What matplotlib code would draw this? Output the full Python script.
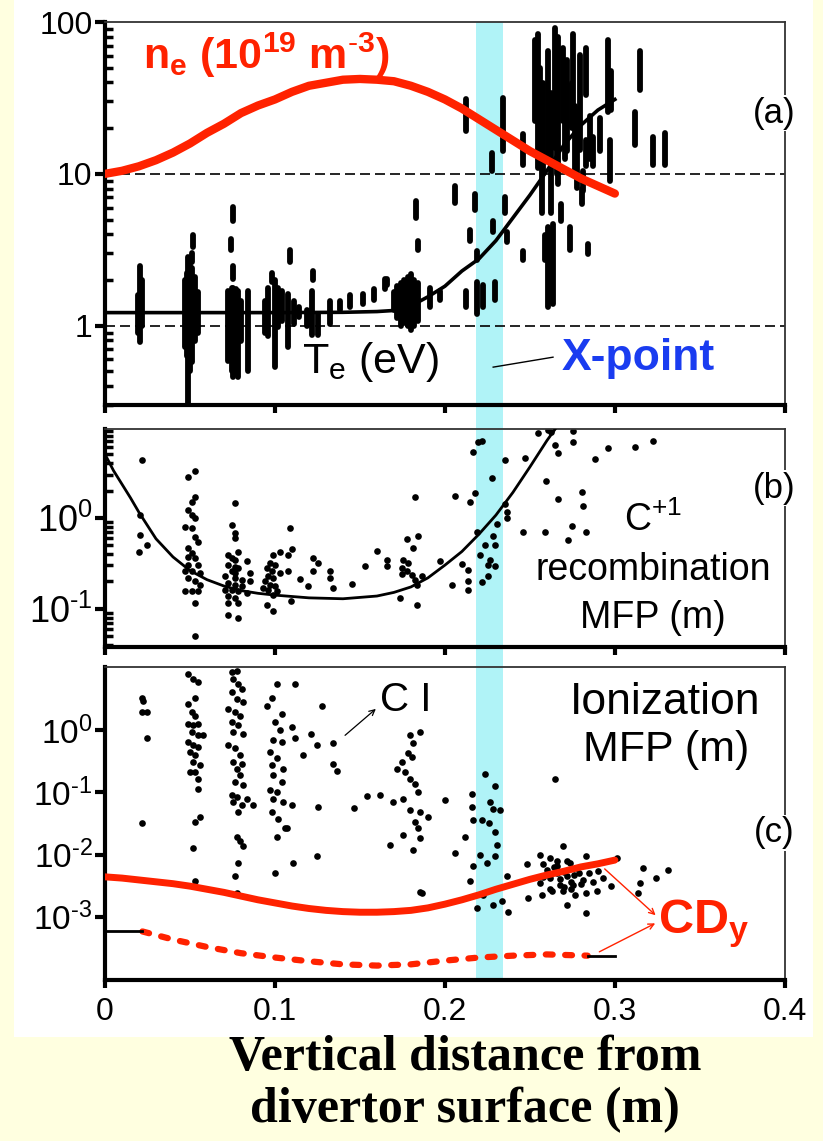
import numpy as np
import matplotlib.pyplot as plt
import matplotlib.transforms as mtransforms
from matplotlib.patches import Rectangle
from matplotlib.ticker import NullFormatter

plt.rcParams['font.family'] = ['Liberation Sans', 'DejaVu Sans']
plt.rcParams['mathtext.fontset'] = 'custom'
plt.rcParams['mathtext.rm'] = 'Liberation Sans'
plt.rcParams['mathtext.it'] = 'Liberation Sans:italic'
plt.rcParams['mathtext.bf'] = 'Liberation Sans:bold'

RED = '#ff2200'
BLUE = '#1a3cf0'
CYAN = '#b0f3f7'
YELLOW = '#ffffe0'

# ---------------- panel (a): ne and Te ----------------
ne_x = [0.0, 0.01, 0.02, 0.03, 0.04, 0.05, 0.06, 0.07, 0.08, 0.09, 0.10, 0.11, 0.12, 0.13,
        0.14, 0.15, 0.16, 0.17, 0.18, 0.19, 0.20, 0.21, 0.22, 0.23, 0.24, 0.25, 0.26, 0.27,
        0.28, 0.29, 0.30]
ne_log = [1.00, 1.02, 1.05, 1.09, 1.14, 1.20, 1.27, 1.33, 1.40, 1.45, 1.49, 1.54, 1.58, 1.60,
          1.62, 1.625, 1.62, 1.61, 1.58, 1.54, 1.49, 1.43, 1.36, 1.29, 1.22, 1.15, 1.09, 1.03,
          0.97, 0.92, 0.87]

te_fit_x = [0.0, 0.05, 0.10, 0.14, 0.16, 0.17, 0.18, 0.19, 0.20, 0.21, 0.22, 0.23, 0.24, 0.25,
            0.26, 0.27, 0.28, 0.29, 0.30]
te_fit_log = [0.086, 0.086, 0.086, 0.088, 0.093, 0.10, 0.13, 0.19, 0.26, 0.36, 0.44, 0.56, 0.71,
              0.86, 1.02, 1.19, 1.32, 1.42, 1.49]

# measured Te: x, log10 lower, log10 upper
te_x = [0.0206, 0.0196, 0.0216, 0.047, 0.048, 0.049, 0.050, 0.051, 0.053, 0.055, 0.052, 0.051,
        0.0755, 0.0739, 0.0755, 0.0725, 0.0745, 0.0755, 0.0768, 0.078, 0.080, 0.0843,
        0.098, 0.096, 0.100, 0.094, 0.102, 0.104, 0.1088, 0.1078, 0.111, 0.114,
        0.1225, 0.1216, 0.1255, 0.119, 0.1324, 0.144, 0.152, 0.158, 0.165, 0.1657, 0.138,
        0.170, 0.172, 0.174, 0.176, 0.178, 0.180, 0.182, 0.184, 0.183, 0.1843, 0.191, 0.197,
        0.206, 0.2127, 0.2147,
        0.2127, 0.2186, 0.2176, 0.2186, 0.2225, 0.2275, 0.2284, 0.2294, 0.2343, 0.2353,
        0.2363, 0.2461, 0.2461,
        0.2529, 0.2549, 0.2569, 0.2588, 0.2608, 0.2608, 0.2627, 0.2647, 0.2667, 0.2686,
        0.2696, 0.2716, 0.2735, 0.2745, 0.2755, 0.2775, 0.2794, 0.2814, 0.2833, 0.2833,
        0.2853, 0.2873, 0.2912, 0.2961, 0.2971, 0.298, 0.2804, 0.2637, 0.2843,
        0.2559, 0.2578, 0.2657, 0.2706, 0.2765,
        0.3118, 0.3147, 0.3225, 0.3294]
te_lo = [-0.11, -0.05, 0.00, -0.14, -0.20, -0.56, -0.30, -0.24, -0.10, -0.05, 0.52, 0.42,
         0.69, 0.50, 0.31, -0.23, -0.30, -0.34, -0.30, -0.34, -0.10, -0.30,
         0.29, -0.07, -0.27, -0.05, -0.01, 0.03, 0.42, -0.14, 0.01, 0.06,
         0.30, -0.06, -0.06, 0.00, 0.01, 0.12, 0.14, 0.17, 0.24, 0.27, 0.10,
         0.10, 0.05, 0.00, 0.02, 0.00, -0.03, 0.00, 0.03, 0.71, 0.50, 0.12, 0.17,
         0.81, 1.28, 0.56,
         0.12, 0.43, 0.76, 0.08, 0.12, 1.02, 0.62, 0.17, 1.15, 0.74,
         0.55, 1.06, 0.43,
         1.35, 1.04, 0.74, 0.43, 0.12, 1.13, 0.74, 1.17, 0.93, 0.69,
         1.35, 1.15, 0.50, 1.30, 1.46, 0.91, 1.16, 0.89, 1.52, 1.05,
         1.10, 1.05, 1.15, 1.41, 0.95, 1.42, 0.80, 0.14, 0.47,
         1.20, 1.00, 1.00, 1.10, 1.00,
         1.19, 1.55, 1.06, 1.06]
te_hi = [0.39, 0.20, 0.30, 0.30, 0.35, 0.45, 0.40, 0.38, 0.32, 0.22, 0.60, 0.48,
         0.78, 0.57, 0.39, 0.23, 0.25, 0.25, 0.24, 0.23, 0.16, 0.23,
         0.35, 0.25, 0.30, 0.16, 0.25, 0.23, 0.50, 0.21, 0.16, 0.12,
         0.36, 0.23, 0.08, 0.10, 0.16, 0.20, 0.21, 0.24, 0.31, 0.31, 0.16,
         0.22, 0.26, 0.28, 0.30, 0.32, 0.34, 0.30, 0.28, 0.82, 0.56, 0.25, 0.23,
         0.92, 1.49, 0.63,
         0.23, 0.49, 0.87, 0.29, 0.27, 1.14, 0.69, 0.29, 1.50, 0.85,
         0.62, 1.26, 0.49,
         1.88, 1.92, 1.50, 0.60, 0.65, 1.81, 1.53, 1.96, 1.90, 0.80,
         1.83, 1.75, 0.65, 1.60, 1.92, 1.40, 1.78, 1.02, 1.83, 1.22,
         1.38, 1.24, 1.37, 1.88, 1.22, 1.68, 0.90, 0.67, 0.54,
         1.70, 1.60, 1.50, 1.60, 1.45,
         1.41, 1.81, 1.24, 1.27]

# ---------------- panel (b): C+1 recombination MFP ----------------
rec_fit_x = [0.0, 0.005, 0.01, 0.015, 0.02, 0.03, 0.04, 0.05, 0.06, 0.07, 0.08, 0.09, 0.10,
             0.12, 0.14, 0.16, 0.17, 0.18, 0.19, 0.20, 0.21, 0.22, 0.23, 0.24, 0.25, 0.26, 0.265]
rec_fit_log = [0.70, 0.52, 0.37, 0.22, 0.06, -0.23, -0.43, -0.58, -0.68, -0.75, -0.80, -0.83,
               -0.85, -0.88, -0.89, -0.86, -0.82, -0.76, -0.66, -0.52, -0.37, -0.18, 0.03,
               0.28, 0.56, 0.85, 0.98]

rec_x = [0.022, 0.0206, 0.0206, 0.0245, 0.020,
         0.049, 0.0529, 0.0529, 0.051, 0.049, 0.051, 0.0529, 0.047, 0.051, 0.0529, 0.0549,
         0.049, 0.051, 0.049, 0.0529, 0.049, 0.0549, 0.047, 0.051, 0.0559, 0.049, 0.0529,
         0.0559, 0.047, 0.051, 0.0549, 0.0529, 0.0529,
         0.0765, 0.0745, 0.0765, 0.0765, 0.0784, 0.0725, 0.0745, 0.0765, 0.0833, 0.0725,
         0.0765, 0.0784, 0.0745, 0.0765, 0.0853, 0.0706, 0.0765, 0.0804, 0.0853, 0.0725,
         0.0765, 0.0804, 0.0706, 0.0745, 0.0784, 0.0833, 0.0725, 0.0765, 0.0725, 0.0784,
         0.0725, 0.0784,
         0.1088, 0.1098, 0.1029, 0.0990, 0.1078, 0.0971, 0.1000, 0.0951, 0.0980, 0.1078,
         0.1029, 0.0961, 0.0990, 0.0941, 0.0971, 0.1000, 0.0931, 0.0961, 0.1010, 0.0990,
         0.0951, 0.1094, 0.0990,
         0.1147, 0.1196, 0.1225, 0.1255, 0.1225, 0.1324, 0.1324, 0.1343, 0.1451, 0.1529,
         0.1598, 0.1657, 0.1657, 0.1735, 0.1775, 0.1824, 0.1843, 0.1814, 0.1755, 0.1784,
         0.1745, 0.1775, 0.1804, 0.1824, 0.1745, 0.1833, 0.1863, 0.1833, 0.1970, 0.2040,
         0.2059, 0.2098, 0.2137, 0.2137, 0.2137, 0.2147, 0.2176, 0.2167, 0.2196,
         0.2216, 0.2353, 0.2470, 0.2279, 0.2353, 0.2363, 0.2363, 0.2304, 0.2186, 0.2284,
         0.2235, 0.2294, 0.2206, 0.2265, 0.2255, 0.2294, 0.2255, 0.2216,
         0.2549, 0.2608, 0.2627, 0.2755, 0.2647, 0.2667, 0.2755, 0.2882, 0.2961, 0.3118,
         0.3225, 0.2594, 0.2667, 0.2804, 0.2814, 0.2461, 0.2588, 0.2745, 0.2833, 0.2725]
rec_log = [0.64, 0.03, -0.19, -0.30, -0.38,
           0.45, 0.52, 0.23, 0.18, 0.09, 0.03, 0.00, -0.10, -0.11, -0.21, -0.26,
           -0.33, -0.39, -0.43, -0.44, -0.52, -0.52, -0.59, -0.59, -0.61, -0.66, -0.70,
           -0.74, -0.81, -0.81, -0.81, -0.94, -1.30,
           0.16, -0.08, -0.17, -0.22, -0.37, -0.41, -0.44, -0.46, -0.48, -0.52,
           -0.54, -0.55, -0.59, -0.61, -0.61, -0.64, -0.66, -0.68, -0.70, -0.72,
           -0.74, -0.75, -0.79, -0.79, -0.81, -0.83, -0.86, -0.88, -0.94, -0.94,
           -1.07, -1.10,
           -0.11, -0.34, -0.37, -0.41, -0.41, -0.50, -0.52, -0.55, -0.59, -0.59,
           -0.61, -0.64, -0.66, -0.70, -0.74, -0.75, -0.77, -0.79, -0.81, -0.85,
           -0.96, -0.92, -1.03,
           -0.67, -0.75, -0.44, -0.50, -0.59, -0.59, -0.66, -0.77, -0.73, -0.53,
           -0.36, -0.46, -0.53, -0.88, -0.23, 0.23, -0.20, -0.33, -0.46, -0.50,
           -0.55, -0.59, -0.63, -0.68, -0.62, -0.74, -0.64, -0.96, -0.47, -0.74,
           0.24, -0.51, -0.57, -0.70, -0.79, 0.18, 0.27, 0.72, 0.84,
           0.85, 0.64, 0.66, 0.44, 0.15, 0.07, 0.00, -0.07, -0.15, -0.20,
           -0.30, -0.30, -0.41, -0.46, -0.52, -0.53, -0.64, -0.71,
           0.93, 0.97, 0.95, 0.96, 0.80, 0.71, 0.83, 0.65, 0.77, 0.78,
           0.85, 0.41, 0.21, 0.28, 0.13, -0.15, -0.15, -0.09, -0.15, -0.24]

# ---------------- panel (c): ionization MFP ----------------
cdy_x = [0.0, 0.01, 0.02, 0.03, 0.04, 0.05, 0.06, 0.07, 0.08, 0.09, 0.10, 0.11, 0.12, 0.13,
         0.14, 0.15, 0.16, 0.17, 0.18, 0.19, 0.20, 0.21, 0.22, 0.23, 0.24, 0.25, 0.26, 0.27,
         0.28, 0.29, 0.30]
cdy_log = [-2.36, -2.38, -2.41, -2.44, -2.47, -2.51, -2.56, -2.61, -2.67, -2.73, -2.78, -2.83,
           -2.87, -2.90, -2.92, -2.93, -2.93, -2.92, -2.90, -2.86, -2.80, -2.73, -2.65, -2.56,
           -2.48, -2.40, -2.33, -2.27, -2.20, -2.15, -2.09]
cdy_lo_x = [0.022, 0.04, 0.06, 0.08, 0.10, 0.12, 0.14, 0.16, 0.18, 0.20, 0.22, 0.24, 0.26, 0.284]
cdy_lo_log = [-3.24, -3.37, -3.49, -3.59, -3.66, -3.72, -3.77, -3.79, -3.77, -3.71, -3.66, -3.63,
              -3.61, -3.63]
cdy_end_x = [[0.0, 0.022], [0.284, 0.30]]
cdy_end_log = [[-3.24, -3.24], [-3.64, -3.64]]

ci_x = [0.0216, 0.0225, 0.0245, 0.0216, 0.0245, 0.0216,
        0.049, 0.052, 0.0549, 0.049, 0.0529, 0.0510, 0.0529, 0.0490, 0.0520, 0.0549, 0.0510,
        0.0549, 0.0578, 0.0490, 0.0520, 0.0549, 0.0500, 0.0529, 0.0520, 0.0559, 0.0500,
        0.0529, 0.0549, 0.0549, 0.0559, 0.0529, 0.0520, 0.0529,
        0.0745, 0.0775, 0.0755, 0.0784, 0.0804, 0.0745, 0.0775, 0.0814, 0.0725, 0.0765,
        0.0794, 0.0745, 0.0784, 0.0755, 0.0814, 0.0725, 0.0765, 0.0794, 0.0755, 0.0804,
        0.0775, 0.0794, 0.0765, 0.0814, 0.0745, 0.0775, 0.0833, 0.0873, 0.0755, 0.0804,
        0.0784, 0.0775, 0.0794, 0.0814, 0.0784, 0.0765, 0.0775,
        0.1010, 0.0980, 0.0951, 0.1039, 0.1000, 0.1029, 0.0990, 0.1039, 0.0971, 0.1010,
        0.0980, 0.1049, 0.0990, 0.1039, 0.0971, 0.1010, 0.0990, 0.1049, 0.0980, 0.1020,
        0.1069, 0.1010, 0.1059, 0.1000, 0.1118,
        0.1098, 0.1118, 0.1098, 0.1104, 0.1167, 0.1210, 0.1249, 0.1275, 0.1255, 0.1245,
        0.1343, 0.1343, 0.1363, 0.1465, 0.1539, 0.1618, 0.1676, 0.1692, 0.1755,
        0.1794, 0.1853, 0.1814, 0.1784, 0.1804, 0.1745, 0.1716, 0.1765, 0.1794, 0.1824,
        0.1843, 0.1794, 0.1853, 0.1902, 0.1824, 0.1843, 0.1755, 0.1853, 0.1814, 0.1853,
        0.1863, 0.2000, 0.2059,
        0.2235, 0.2294, 0.2157, 0.2157, 0.2265, 0.2284, 0.2324, 0.2167, 0.2221, 0.2261,
        0.2294, 0.2118, 0.2308, 0.2206, 0.2294, 0.2167, 0.2245, 0.2147, 0.2363, 0.2225,
        0.2186, 0.2284, 0.2333, 0.2373, 0.2647,
        0.2696, 0.2484, 0.2559, 0.2618, 0.2578, 0.2657, 0.2735, 0.2833, 0.2775, 0.2657,
        0.2716, 0.2618, 0.2559, 0.2676, 0.2755, 0.2814, 0.2902, 0.2931, 0.2980, 0.2696,
        0.2765, 0.2833, 0.2892, 0.2569, 0.2490, 0.2716, 0.2833, 0.3010, 0.3167, 0.3241,
        0.3147, 0.3314, 0.3137, 0.2600, 0.2640, 0.2700, 0.2740, 0.2790, 0.2620, 0.2680,
        0.2720, 0.2760, 0.2800, 0.2660, 0.2700, 0.2740, 0.2850, 0.2580, 0.2630, 0.2870]
ci_log = [0.53, 0.48, 0.30, 0.30, -0.13, -1.50,
          0.91, 0.83, 0.78, 0.43, 0.53, 0.29, 0.24, 0.11, 0.08, 0.11, -0.03,
          -0.08, -0.08, -0.19, -0.24, -0.27, -0.35, -0.40, -0.51, -0.56, -0.67,
          -0.67, -0.78, -0.94, -1.39, -1.47, -1.90, -2.43,
          0.94, 0.96, 0.83, 0.75, 0.67, 0.62, 0.51, 0.45, 0.35, 0.29,
          0.24, 0.13, 0.08, -0.03, -0.05, -0.24, -0.29, -0.40, -0.51, -0.54,
          -0.62, -0.72, -0.83, -0.88, -1.04, -1.07, -1.10, -1.20, -1.15, -1.20,
          -1.31, -1.71, -1.79, -1.87, -2.14, -2.35, -2.62,
          0.75, 0.53, 0.40, 0.27, 0.13, 0.00, -0.16, -0.19, -0.35, -0.45,
          -0.56, -0.62, -0.72, -0.83, -0.96, -0.99, -1.10, -1.15, -1.31, -1.42,
          -1.58, -1.71, -1.58, -2.30, 0.75,
          0.05, -0.13, -1.20, -2.14, -0.40, -0.05, -0.24, 0.39, -1.23, -2.03,
          -0.21, -0.54, -0.66, -1.25, -1.05, -1.04, -1.85, -1.15, -1.10,
          -0.08, -0.03, -0.21, -0.37, -0.43, -0.51, -0.62, -0.67, -0.78, -0.86,
          -0.99, -1.28, -1.31, -1.39, -1.47, -1.58, -1.69, -1.74, -1.93, -2.60,
          -2.62, -1.12, -1.98,
          -0.71, -0.89, -1.02, -1.23, -1.15, -1.26, -1.28, -1.44, -1.44, -1.50,
          -1.63, -1.71, -1.85, -2.00, -2.03, -2.19, -2.14, -2.43, -2.35, -2.65,
          -2.86, -2.81, -2.75, -2.92, -0.78,
          -1.87, -2.16, -2.00, -2.06, -2.16, -2.11, -2.14, -2.03, -2.22, -2.30,
          -2.35, -2.38, -2.46, -2.49, -2.49, -2.41, -2.27, -2.38, -2.51, -2.59,
          -2.65, -2.62, -2.59, -2.65, -2.70, -2.81, -2.94, -2.06, -2.22, -2.38,
          -2.46, -2.25, -2.62, -2.25, -2.20, -2.28, -2.44, -2.30, -2.55, -2.40,
          -2.10, -2.33, -2.48, -2.18, -2.52, -2.56, -2.30, -2.36, -2.58, -2.45]

band = (0.218, 0.234)

fig = plt.figure(figsize=(8.23, 11.41), dpi=100, facecolor=YELLOW)
fig.patches.append(Rectangle((0.017, 0.091), 0.971, 0.909, transform=fig.transFigure,
                             facecolor='white', edgecolor='none', zorder=-3))

L, W = 0.1276, 0.826
ax_a = fig.add_axes([L, 0.645, W, 0.3357])
ax_b = fig.add_axes([L, 0.433, W, 0.191])
ax_c = fig.add_axes([L, 0.1411, W, 0.2743])

for ax, ylab in ((ax_a, 23), (ax_b, 26), (ax_c, 24)):
    ax.set_facecolor('none')
    ax.set_yscale('log')
    ax.set_xlim(0, 0.4)
    ax.set_xticks([0, 0.1, 0.2, 0.3, 0.4])
    for s in ('left', 'bottom'):
        ax.spines[s].set_linewidth(3)
    for s in ('top', 'right'):
        ax.spines[s].set_linewidth(1.3)
        ax.spines[s].set_color('#333333')
    ax.tick_params(axis='x', which='major', direction='out', length=6, width=3,
                   labelsize=23, pad=6)
    ax.tick_params(axis='y', which='major', direction='out', length=7, width=3,
                   labelsize=ylab, pad=2)
    ax.tick_params(axis='y', which='minor', direction='in', length=6, width=2.5)
    ax.yaxis.set_minor_formatter(NullFormatter())

ax_a.tick_params(axis='x', labelbottom=False)
ax_b.tick_params(axis='x', labelbottom=False)
ax_c.set_xticklabels(['0', '0.1', '0.2', '0.3', '0.4'])

# X-point band through all three panels
blend = mtransforms.blended_transform_factory(ax_c.transData, fig.transFigure)
fig.patches.append(Rectangle((band[0], 0.1411), band[1] - band[0], 0.9807 - 0.1411,
                             transform=blend, facecolor=CYAN, edgecolor='none', zorder=-2))

# ---- (a)
ax_a.set_ylim(0.3, 100)
ax_a.set_yticks([1, 10, 100])
ax_a.set_yticklabels(['1', '10', '100'])
for v in (1, 10):
    ax_a.axhline(v, color='black', lw=1.2, ls=(0, (6, 3)), zorder=1)
ax_a.vlines(te_x, 10 ** np.array(te_lo), 10 ** np.array(te_hi), color='black',
            linewidth=4.2, capstyle='round', zorder=2)
ax_a.plot(te_fit_x, 10 ** np.array(te_fit_log), color='black', lw=2.6, zorder=3)
ax_a.plot(ne_x, 10 ** np.array(ne_log), color=RED, lw=6, solid_capstyle='round', zorder=4)

ax_a.text(0.056, 0.914, r'$\mathbf{n_e\ (10^{19}\ m^{\text{-}3})}$', transform=ax_a.transAxes,
          color=RED, fontsize=31, ha='left', va='center')
ax_a.text(0.29, 0.0836, r'T$_\mathregular{e}$ (eV)', transform=ax_a.transAxes,
          fontsize=31, ha='left', va='baseline')
ax_a.text(0.672, 0.091, 'X-point', transform=ax_a.transAxes, color=BLUE,
          fontsize=32, fontweight='bold', ha='left', va='baseline')
ax_a.plot([0.571, 0.659], [0.099, 0.125], transform=ax_a.transAxes, color='black', lw=1)
ax_a.text(0.985, 0.762, '(a)', transform=ax_a.transAxes, fontsize=25, ha='center',
          va='center', bbox=dict(facecolor='white', edgecolor='none', pad=1), zorder=5)

# ---- (b)
ax_b.set_ylim(0.038, 9.5)
ax_b.set_yticks([0.1, 1])
ax_b.set_yticklabels([r'10$^{\text{-}1}$', r'10$^{0}$'])
ax_b.plot(rec_x, 10 ** np.array(rec_log), 'o', color='black', markersize=4.8,
          markeredgewidth=0, zorder=2)
ax_b.plot(rec_fit_x, 10 ** np.array(rec_fit_log), color='black', lw=2, zorder=3)
ax_b.text(0.985, 0.729, '(b)', transform=ax_b.transAxes, fontsize=25, ha='center',
          va='center', bbox=dict(facecolor='white', edgecolor='none', pad=1), zorder=5)
for txt, yy in ((r'C$^\mathregular{+1}$', 0.58), ('recombination', 0.353), ('MFP (m)', 0.133)):
    ax_b.text(0.806, yy, txt, transform=ax_b.transAxes, fontsize=27, ha='center', va='center')

# ---- (c)
ax_c.set_ylim(9.5e-5, 10.5)
ax_c.set_yticks([1e-3, 1e-2, 1e-1, 1])
ax_c.set_yticklabels([r'10$^{\text{-}3}$', r'10$^{\text{-}2}$',
                      r'10$^{\text{-}1}$', r'10$^{0}$'])
ax_c.plot(ci_x, 10 ** np.array(ci_log), 'o', color='black', markersize=4.8,
          markeredgewidth=0, zorder=2)
ax_c.plot(cdy_x, 10 ** np.array(cdy_log), color=RED, lw=5, solid_capstyle='round', zorder=3)
ax_c.plot(cdy_lo_x, 10 ** np.array(cdy_lo_log), color=RED, lw=4.5, dashes=(1.1, 2.0),
          dash_capstyle='round', zorder=3)
for xs, ys in zip(cdy_end_x, cdy_end_log):
    ax_c.plot(xs, 10 ** np.array(ys), color='black', lw=2, zorder=3)

ax_c.text(0.404, 0.895, 'C I', transform=ax_c.transAxes, fontsize=29, ha='left', va='center')
ax_c.annotate('', xy=(0.4015, 0.872), xytext=(0.35, 0.776), xycoords='axes fraction',
              arrowprops=dict(arrowstyle='->', color='black', lw=0.9))
ax_c.text(0.824, 0.888, 'Ionization', transform=ax_c.transAxes, fontsize=32,
          ha='center', va='center')
ax_c.text(0.826, 0.735, 'MFP (m)', transform=ax_c.transAxes, fontsize=31,
          ha='center', va='center')
ax_c.text(0.985, 0.47, '(c)', transform=ax_c.transAxes, fontsize=25, ha='center',
          va='center', bbox=dict(facecolor='white', edgecolor='none', pad=1), zorder=5)
ax_c.text(0.813, 0.15, r'CD$_\mathbf{y}$', transform=ax_c.transAxes, color=RED,
          fontsize=35, fontweight='bold', ha='left', va='baseline')
for start, end in (((0.732, 0.361), (0.813, 0.201)), ((0.7235, 0.086), (0.813, 0.185))):
    ax_c.annotate('', xy=end, xytext=start, xycoords='axes fraction',
                  arrowprops=dict(arrowstyle='->', color=RED, lw=1))

fig.text(0.565, 0.0727, 'Vertical distance from', fontsize=36, fontweight='bold',
         family='Liberation Serif', ha='center', va='center')
fig.text(0.565, 0.0272, 'divertor surface (m)', fontsize=36, fontweight='bold',
         family='Liberation Serif', ha='center', va='center')

fig.savefig('out.png', dpi=100, facecolor=YELLOW)
